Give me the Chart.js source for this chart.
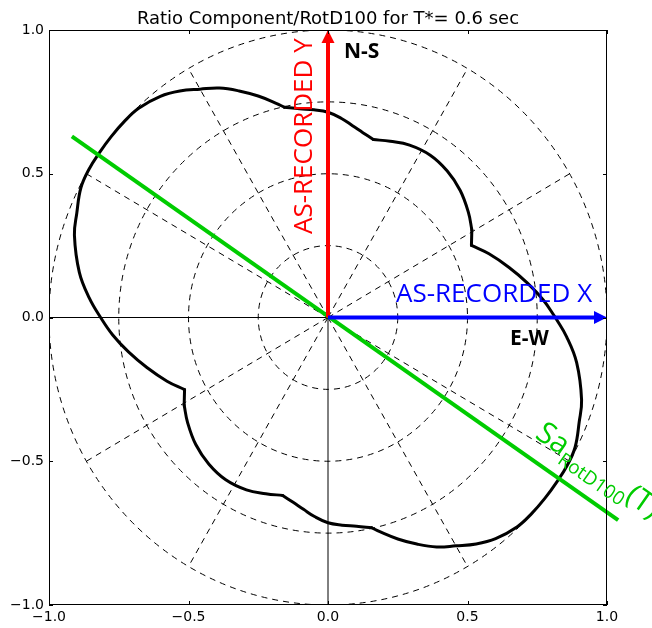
<!DOCTYPE html>
<html>
<head>
<meta charset="utf-8">
<script src="https://cdn.jsdelivr.net/npm/chart.js@4.4.1/dist/chart.umd.min.js"></script>
<style>
  html, body { margin: 0; padding: 0; background: #fff; }
  #wrap { width: 652px; height: 628px; }
</style>
</head>
<body>
<div id="wrap"><canvas id="chart" width="652" height="628"></canvas></div>
<script>
// ratio component / RotD100, by azimuth (deg, CCW from E-W)
const angleDeg = [0, 4.5, 9.5, 15, 21, 26, 30.6, 36, 43, 50, 57, 64, 70, 75.3, 79, 82.5, 86, 90, 94, 98,
  102.1, 104, 108, 112, 116, 120, 124, 128, 133, 137, 141, 145, 149, 153, 158, 162.5, 170, 175.5,
  180, 184.5, 189.5, 195, 201, 206, 210.6, 216, 223, 230, 237, 244, 250, 255.3, 259, 262.5, 266, 270, 274, 278,
  282.1, 284, 288, 292, 296, 300, 304, 308, 313, 317, 321, 325, 329, 333, 338, 342.5, 350, 355.5, 360];
const ratio = [0.815, 0.774, 0.725, 0.672, 0.618, 0.572, 0.599, 0.622, 0.648, 0.665, 0.673, 0.667, 0.652, 0.640, 0.655, 0.673, 0.694, 0.714, 0.724, 0.733,
  0.748, 0.768, 0.810, 0.850, 0.888, 0.917, 0.950, 0.976, 0.995, 0.999, 1.0, 1.0, 1.0, 0.994, 0.971, 0.953, 0.905, 0.858,
  0.815, 0.774, 0.725, 0.672, 0.618, 0.572, 0.599, 0.622, 0.648, 0.665, 0.673, 0.667, 0.652, 0.640, 0.655, 0.673, 0.694, 0.714, 0.724, 0.733,
  0.748, 0.768, 0.810, 0.850, 0.888, 0.917, 0.950, 0.976, 0.995, 0.999, 1.0, 1.0, 1.0, 0.994, 0.971, 0.953, 0.905, 0.858, 0.815];
// azimuths where the envelope has a kink
const cuspDeg = [26, 30.6, 75.3, 102.1, 206, 210.6, 255.3, 282.1];

// RotD100 direction line end points
const rotLineX = [-0.918, 1.04];
const rotLineY = [0.63, -0.705];

const tickValues = [-1.0, -0.5, 0.0, 0.5, 1.0];
const ringRadii = [0.25, 0.5, 0.75, 1.0];
const spokeAngles = [30, 60, 120, 150, 210, 240, 300, 330];

const curve = angleDeg.map((a, i) => ({
  x: ratio[i] * Math.cos(a * Math.PI / 180),
  y: ratio[i] * Math.sin(a * Math.PI / 180)
}));
const rotLine = rotLineX.map((x, i) => ({ x: x, y: rotLineY[i] }));

// split the curve at the kinks so smoothing does not round them off
const pieces = [];
let start = 0;
angleDeg.forEach((a, i) => {
  if (cuspDeg.includes(a) || i === angleDeg.length - 1) {
    pieces.push(curve.slice(start, i + 1));
    start = i;
  }
});

function fmt(v) {
  return v.toFixed(1).replace('-', '\u2212');
}

function arrow(ctx, x0, y0, x1, y1, color) {
  const head = 13, half = 6.5;
  const len = Math.hypot(x1 - x0, y1 - y0);
  const ux = (x1 - x0) / len, uy = (y1 - y0) / len;
  const bx = x1 - ux * head, by = y1 - uy * head;
  ctx.save();
  ctx.strokeStyle = color;
  ctx.fillStyle = color;
  ctx.lineWidth = 4;
  ctx.beginPath();
  ctx.moveTo(x0, y0);
  ctx.lineTo(bx + ux, by + uy);
  ctx.stroke();
  ctx.beginPath();
  ctx.moveTo(x1, y1);
  ctx.lineTo(bx - uy * half, by + ux * half);
  ctx.lineTo(bx + uy * half, by - ux * half);
  ctx.closePath();
  ctx.fill();
  ctx.restore();
}

const polarGrid = {
  id: 'polarGrid',
  beforeDatasetsDraw(chart) {
    const { ctx, chartArea: a, scales: { x, y } } = chart;
    const cx = x.getPixelForValue(0), cy = y.getPixelForValue(0);
    ctx.save();
    ctx.beginPath();
    ctx.rect(a.left, a.top, a.right - a.left, a.bottom - a.top);
    ctx.clip();
    ctx.strokeStyle = '#000';
    ctx.lineWidth = 1;
    ctx.setLineDash([6, 5]);
    ringRadii.forEach(r => {
      ctx.beginPath();
      ctx.ellipse(cx, cy, x.getPixelForValue(r) - cx, cy - y.getPixelForValue(r), 0, 0, Math.PI * 2);
      ctx.stroke();
    });
    spokeAngles.forEach(d => {
      const t = d * Math.PI / 180;
      ctx.beginPath();
      ctx.moveTo(cx, cy);
      ctx.lineTo(x.getPixelForValue(Math.cos(t)), y.getPixelForValue(Math.sin(t)));
      ctx.stroke();
    });
    ctx.setLineDash([]);
    ctx.beginPath();
    ctx.moveTo(a.left, cy); ctx.lineTo(a.right, cy);
    ctx.moveTo(cx, a.top); ctx.lineTo(cx, a.bottom);
    ctx.stroke();
    ctx.restore();
  },
  afterDatasetsDraw(chart) {
    const { ctx, chartArea: a, scales: { x, y } } = chart;
    const cx = x.getPixelForValue(0), cy = y.getPixelForValue(0);

    // axis arrows
    arrow(ctx, cx, cy, cx, y.getPixelForValue(1), '#ff0000');
    arrow(ctx, cx, cy, x.getPixelForValue(1), cy, '#0000ff');

    // frame with inward ticks
    ctx.save();
    ctx.strokeStyle = '#000';
    ctx.lineWidth = 1;
    ctx.strokeRect(a.left + 0.5, a.top + 0.5, a.right - a.left - 1, a.bottom - a.top - 1);
    ctx.beginPath();
    tickValues.forEach(v => {
      const px = Math.round(x.getPixelForValue(v)) + 0.5;
      const py = Math.round(y.getPixelForValue(v)) + 0.5;
      ctx.moveTo(px, a.bottom); ctx.lineTo(px, a.bottom - 4);
      ctx.moveTo(px, a.top); ctx.lineTo(px, a.top + 4);
      ctx.moveTo(a.left, py); ctx.lineTo(a.left + 4, py);
      ctx.moveTo(a.right, py); ctx.lineTo(a.right - 4, py);
    });
    ctx.stroke();

    // title
    ctx.fillStyle = '#000';
    ctx.font = '18px "DejaVu Sans"';
    ctx.textAlign = 'center';
    ctx.textBaseline = 'alphabetic';
    ctx.fillText('Ratio Component/RotD100 for T*= 0.6 sec', (a.left + a.right) / 2, 24);

    // annotations
    ctx.textAlign = 'left';
    ctx.font = 'bold 21px "Open Sans"';
    ctx.fillText('N-S', 344, 58);
    ctx.fillText('E-W', 510, 345);

    ctx.font = '26px "Open Sans"';
    ctx.fillStyle = '#0000ff';
    ctx.fillText('AS-RECORDED X', 396, 302);

    ctx.save();
    ctx.translate(312, 234);
    ctx.rotate(-Math.PI / 2);
    ctx.fillStyle = '#ff0000';
    ctx.fillText('AS-RECORDED Y', 0, 0);
    ctx.restore();

    ctx.save();
    ctx.translate(534, 437);
    ctx.rotate(35 * Math.PI / 180);
    ctx.fillStyle = '#00cc00';
    ctx.font = '30px "Open Sans"';
    ctx.fillText('Sa', 0, 0);
    let w = ctx.measureText('Sa').width;
    ctx.font = '19px "Open Sans"';
    ctx.fillText('RotD100', w, 8);
    w += ctx.measureText('RotD100').width;
    ctx.font = '30px "Open Sans"';
    ctx.fillText('(T)', w, 0);
    ctx.restore();

    ctx.restore();
  }
};

const curveSets = pieces.map(p => ({
  data: p,
  showLine: true,
  borderColor: '#000',
  borderWidth: 3,
  borderCapStyle: 'round',
  pointRadius: 0,
  tension: 0.4,
  order: 2
}));

new Chart(document.getElementById('chart'), {
  type: 'scatter',
  data: {
    datasets: curveSets.concat([
      {
        data: rotLine,
        showLine: true,
        borderColor: '#00cc00',
        borderWidth: 4,
        pointRadius: 0,
        clip: false,
        order: 1
      }
    ])
  },
  options: {
    responsive: false,
    animation: false,
    layout: { padding: { left: 0, top: 30, right: 45, bottom: 0 } },
    plugins: { legend: { display: false }, tooltip: { enabled: false } },
    scales: {
      x: {
        min: -1, max: 1,
        afterFit(s) { s.height = 23; },
        grid: { display: false, drawTicks: false },
        border: { display: false },
        ticks: {
          stepSize: 0.5, padding: 4, color: '#000',
          font: { family: 'DejaVu Sans', size: 14 },
          callback: v => fmt(v)
        }
      },
      y: {
        min: -1, max: 1,
        afterFit(s) { s.width = 49; },
        grid: { display: false, drawTicks: false },
        border: { display: false },
        ticks: {
          stepSize: 0.5, padding: 5, color: '#000',
          font: { family: 'DejaVu Sans', size: 14 },
          callback: v => fmt(v)
        }
      }
    }
  },
  plugins: [polarGrid]
});
</script>
</body>
</html>
